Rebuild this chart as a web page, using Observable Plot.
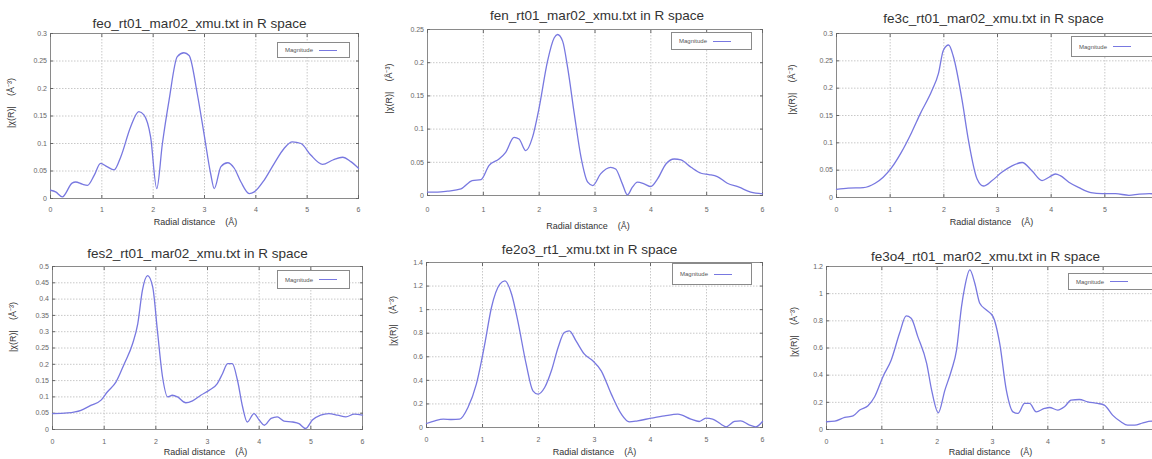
<!DOCTYPE html>
<html><head><meta charset="utf-8">
<script src="https://cdn.jsdelivr.net/npm/d3@7"></script>
<script src="https://cdn.jsdelivr.net/npm/@observablehq/plot@0.6"></script>
<style>
html,body{margin:0;padding:0;background:#fff;}
#root{position:relative;width:1152px;height:459px;overflow:hidden;background:#fff;font-family:"Liberation Sans",Arial,sans-serif;}
.panel{position:absolute;}
.panel svg{display:block;max-width:none !important;}
.legend{position:absolute;border:1px solid #8a8a8a;background:#fff;font-size:6px;color:#555;display:flex;align-items:center;box-sizing:border-box;padding-left:7px;white-space:nowrap;}
.legend .sample{display:inline-block;width:18px;height:0;border-top:1px solid #7878e0;margin-left:6px;}
</style></head><body><div id="root"></div>
<script>
// ---------- data ----------
const xTicks = [0, 1, 2, 3, 4, 5, 6];
const xTicksClipped = [0, 1, 2, 3, 4, 5];
const yTicks03 = [0, 0.05, 0.1, 0.15, 0.2, 0.25, 0.3];
const yTicks025 = [0, 0.05, 0.1, 0.15, 0.2, 0.25];
const yTicks05 = [0, 0.05, 0.1, 0.15, 0.2, 0.25, 0.3, 0.35, 0.4, 0.45, 0.5];
const yTicks14 = [0, 0.2, 0.4, 0.6, 0.8, 1, 1.2, 1.4];
const yTicks12 = [0, 0.2, 0.4, 0.6, 0.8, 1, 1.2];

const titles = [
  "feo_rt01_mar02_xmu.txt in R space",
  "fen_rt01_mar02_xmu.txt in R space",
  "fe3c_rt01_mar02_xmu.txt in R space",
  "fes2_rt01_mar02_xmu.txt in R space",
  "fe2o3_rt1_xmu.txt in R space",
  "fe3o4_rt01_mar02_xmu.txt in R space"
];
const xLabel = "Radial distance\u00a0\u00a0\u00a0\u00a0(Å)";
const yLabel = "|χ(R)|\u00a0\u00a0\u00a0\u00a0(Å\u207B\u00B3)";
const legendLabel = "Magnitude";

const feoR = [0,0.1,0.23,0.42,0.49,0.62,0.72,0.85,0.975,1.1,1.24,1.37,1.56,1.72,1.82,1.95,2.07,2.18,2.31,2.47,2.6,2.7,2.86,2.99,3.12,3.19,3.32,3.45,3.58,3.71,3.87,3.97,4.16,4.36,4.55,4.71,4.88,5.07,5.3,5.5,5.69,5.85,6.0];
const feoMag = [0.015,0.012,0.003,0.028,0.03,0.026,0.024,0.042,0.064,0.058,0.052,0.076,0.13,0.158,0.152,0.112,0.018,0.1,0.179,0.258,0.265,0.26,0.19,0.118,0.045,0.018,0.058,0.065,0.055,0.03,0.009,0.012,0.033,0.064,0.091,0.103,0.1,0.079,0.062,0.07,0.075,0.067,0.055];

const fenR = [0,0.18,0.36,0.6,0.8,0.96,1.1,1.28,1.4,1.55,1.64,1.76,1.88,2.0,2.15,2.27,2.33,2.42,2.51,2.63,2.75,2.87,2.96,3.1,3.28,3.37,3.49,3.58,3.67,3.76,3.88,4.0,4.12,4.27,4.42,4.54,4.72,4.9,5.04,5.19,5.37,5.58,5.79,6.0];
const fenMag = [0.005,0.005,0.0065,0.01,0.0225,0.024,0.045,0.055,0.065,0.0875,0.085,0.0675,0.0875,0.1325,0.2025,0.2375,0.2425,0.2325,0.1925,0.1225,0.0575,0.02,0.015,0.0325,0.0425,0.04,0.0175,0.001,0.0125,0.02,0.0175,0.0135,0.025,0.0475,0.055,0.0535,0.0425,0.0335,0.0315,0.0285,0.0185,0.0125,0.005,0.0025];

const fe3cR = [0,0.22,0.5,0.72,0.87,1.03,1.21,1.4,1.56,1.78,1.9,1.99,2.09,2.18,2.34,2.46,2.62,2.74,2.9,3.08,3.27,3.46,3.64,3.83,3.96,4.08,4.17,4.33,4.52,4.74,4.95,5.2,5.45,5.64,5.83,6.0];
const fe3cMag = [0.015,0.017,0.018,0.026,0.037,0.055,0.083,0.119,0.153,0.196,0.227,0.269,0.279,0.257,0.178,0.104,0.034,0.021,0.031,0.046,0.058,0.064,0.049,0.031,0.037,0.043,0.04,0.028,0.018,0.009,0.007,0.007,0.004,0.006,0.007,0.006];

const fes2R = [0,0.29,0.55,0.74,0.94,1.06,1.23,1.39,1.55,1.65,1.74,1.84,1.94,2.03,2.13,2.23,2.32,2.42,2.58,2.71,2.87,3.03,3.19,3.29,3.39,3.48,3.58,3.68,3.77,3.9,4.0,4.1,4.23,4.35,4.48,4.65,4.77,4.9,5.03,5.19,5.35,5.52,5.68,5.84,6.0];
const fes2Mag = [0.049,0.051,0.059,0.074,0.09,0.115,0.146,0.202,0.263,0.324,0.427,0.472,0.437,0.304,0.161,0.1,0.105,0.1,0.082,0.088,0.105,0.12,0.141,0.171,0.202,0.202,0.151,0.069,0.023,0.049,0.029,0.013,0.034,0.039,0.026,0.023,0.018,0.003,0.029,0.044,0.049,0.044,0.039,0.047,0.044];

const fe2o3R = [0,0.15,0.3,0.45,0.59,0.74,0.89,1.04,1.16,1.31,1.4,1.52,1.63,1.78,1.9,1.99,2.11,2.23,2.35,2.46,2.55,2.67,2.82,2.97,3.12,3.3,3.48,3.62,3.77,4.01,4.25,4.49,4.72,4.87,4.99,5.11,5.26,5.35,5.5,5.61,5.76,5.88,6.0];
const fe2o3Mag = [0.034,0.057,0.071,0.068,0.071,0.17,0.368,0.707,1.018,1.216,1.244,1.131,0.905,0.537,0.311,0.283,0.339,0.481,0.679,0.806,0.82,0.735,0.622,0.566,0.481,0.283,0.113,0.048,0.057,0.079,0.099,0.113,0.071,0.051,0.079,0.071,0.028,0.006,0.051,0.057,0.023,0.006,0.051];

const fe3o4R = [0,0.15,0.33,0.48,0.6,0.75,0.87,1.02,1.17,1.32,1.44,1.53,1.65,1.81,1.9,2.02,2.14,2.26,2.35,2.44,2.5,2.59,2.68,2.77,2.89,3.01,3.13,3.25,3.37,3.46,3.58,3.67,3.79,3.94,4.03,4.18,4.3,4.42,4.57,4.72,4.9,5.02,5.17,5.32,5.44,5.57,5.72,5.87,6.0];
const fe3o4Mag = [0.057,0.061,0.089,0.1,0.143,0.175,0.241,0.389,0.512,0.708,0.836,0.819,0.684,0.487,0.29,0.123,0.29,0.438,0.585,0.905,1.052,1.175,1.077,0.929,0.88,0.831,0.634,0.29,0.13,0.118,0.192,0.192,0.13,0.155,0.162,0.143,0.167,0.216,0.221,0.204,0.192,0.18,0.106,0.057,0.032,0.032,0.049,0.061,0.049];

// ---------- layout ----------
const panels = [
  {r: feoR, m: feoMag, title: titles[0], yt: yTicks03, xl: xTicks, left: 0, top: 0, w: 384, h: 230, ml: 50, mr: 26, mt: 33, mb: 32,
   tdx: -5, tdy: -6, xpad: 11.5, xldx: -9, xldy: 24, yldx: -39, yldy: 12, lg: [277, 42, 73, 16]},
  {r: fenR, m: fenMag, title: titles[1], yt: yTicks025, xl: xTicks, left: 384, top: 0, w: 384, h: 230, ml: 43, mr: 6, mt: 29, mb: 35,
   tdx: 2, tdy: -10, xpad: 14.8, xldx: -7, xldy: 31, yldx: -38, yldy: 1, lg: [671, 32, 81, 18]},
  {r: fe3cR, m: fe3cMag, title: titles[2], yt: yTicks03, xl: xTicksClipped, left: 768, top: 0, w: 400, h: 230, ml: 68, mr: 10, mt: 33, mb: 33,
   tdx: -4, tdy: -11, xpad: 12.5, xldx: -6, xldy: 25, yldx: -44, yldy: -1, lg: [1071, 36, 95, 21]},
  {r: fes2R, m: fes2Mag, title: titles[3], yt: yTicks05, xl: xTicks, left: 0, top: 230, w: 384, h: 229, ml: 52, mr: 22, mt: 36, mb: 30,
   tdx: -10, tdy: -9, xpad: 12.2, xldx: -2, xldy: 23, yldx: -39, yldy: 4, lg: [277, 270, 73, 19]},
  {r: fe2o3R, m: fe2o3Mag, title: titles[4], yt: yTicks14, xl: xTicks, left: 384, top: 230, w: 384, h: 229, ml: 42, mr: 6, mt: 32, mb: 32,
   tdx: -5, tdy: -9, xpad: 12.8, xldx: 0, xldy: 25, yldx: -33, yldy: 1, lg: [672, 263, 80, 22]},
  {r: fe3o4R, m: fe3o4Mag, title: titles[5], yt: yTicks12, xl: xTicksClipped, left: 768, top: 230, w: 400, h: 229, ml: 58, mr: 10, mt: 36, mb: 30,
   tdx: -7, tdy: -6, xpad: 12.2, xldx: -2, xldy: 23, yldx: -32, yldy: 9, lg: [1068, 273, 90, 17]}
];

const fmt = d => String(+d.toFixed(2));
const root = document.getElementById("root");

for (const p of panels) {
  const data = p.r.map((r, i) => ({r, mag: p.m[i]}));
  const ymax = p.yt[p.yt.length - 1];
  const chart = Plot.plot({
    width: p.w, height: p.h,
    marginLeft: p.ml, marginRight: p.mr, marginTop: p.mt, marginBottom: p.mb,
    style: {fontFamily: '"Liberation Sans", Arial, sans-serif', fontSize: "7px", background: "transparent", color: "#555", overflow: "visible", maxWidth: "none"},
    x: {domain: [0, 6]},
    y: {domain: [0, ymax]},
    marks: [
      Plot.gridX(xTicks, {stroke: "#c8c8c8", strokeOpacity: 1, strokeDasharray: "1.5,1.5"}),
      Plot.gridY(p.yt, {stroke: "#c8c8c8", strokeOpacity: 1, strokeDasharray: "1.5,1.5"}),
      Plot.frame({stroke: "#8a8a8a"}),
      Plot.axisX(p.xl, {tickSize: -3, tickPadding: p.xpad, tickFormat: fmt, color: "#666", label: null}),
      Plot.axisX(xTicks, {anchor: "top", tickSize: -3, tickFormat: () => "", color: "#666", label: null}),
      Plot.axisY(p.yt, {tickSize: -3, tickPadding: 6.5, tickFormat: fmt, color: "#666", label: null}),
      Plot.axisY(p.yt, {anchor: "right", tickSize: -3, tickFormat: () => "", color: "#666", label: null}),
      Plot.line(data, {x: "r", y: "mag", stroke: "#7878e0", strokeWidth: 1.3, curve: "monotone-x"}),
      Plot.text([p.title], {frameAnchor: "top", lineAnchor: "bottom", dx: p.tdx, dy: p.tdy, fontSize: 13.5, fill: "#333"}),
      Plot.text([xLabel], {frameAnchor: "bottom", lineAnchor: "middle", dx: p.xldx, dy: p.xldy, fontSize: 9, fill: "#333"}),
      Plot.text([yLabel], {frameAnchor: "left", lineAnchor: "middle", rotate: -90, dx: p.yldx, dy: p.yldy, fontSize: 9, fill: "#333"})
    ]
  });
  const div = document.createElement("div");
  div.className = "panel";
  div.style.left = p.left + "px";
  div.style.top = p.top + "px";
  div.style.width = p.w + "px";
  div.style.height = p.h + "px";
  div.appendChild(chart);
  root.appendChild(div);

  const lg = document.createElement("div");
  lg.className = "legend";
  lg.style.left = p.lg[0] + "px";
  lg.style.top = p.lg[1] + "px";
  lg.style.width = p.lg[2] + "px";
  lg.style.height = p.lg[3] + "px";
  lg.innerHTML = `<span>${legendLabel}</span><span class="sample"></span>`;
  root.appendChild(lg);
}
</script>
</body></html>
